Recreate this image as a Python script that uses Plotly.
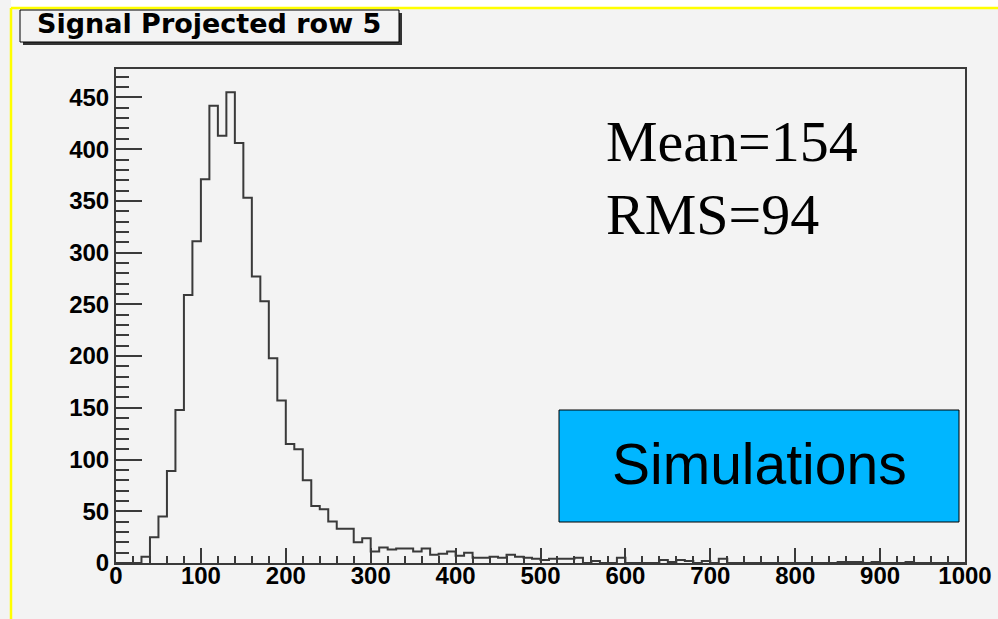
import plotly.graph_objects as go

# ---- data ----
bin_width = 10
bin_start = 0
counts = [0, 0, 0, 6, 25, 45, 89, 148, 259, 311,
          371, 442, 413, 455, 406, 353, 277, 253, 198, 157,
          115, 110, 80, 55, 52, 40, 33, 33, 20, 24,
          11, 15, 13, 14, 14, 11, 14, 8, 9, 11,
          7, 10, 5, 5, 6, 5, 8, 6, 5, 4,
          3, 4, 4, 4, 5, 0, 2, 0, 0, 5,
          0, 0, 0, 0, 3, 1, 3, 2, 0, 2,
          0, 4, 0, 0, 0, 0, 0, 0, 0, 0,
          0, 0, 0, 0, 0, 1, 1, 1, 0, 1,
          0, 0, 0, 1, 0, 0, 0, 0, 0, 0]
title_text = "Signal Projected row 5"
stats_lines = ["Mean=154", "RMS=94"]
label_text = "Simulations"
x_range = [0, 1000]
y_range = [0, 477.5]

edges = [bin_start + i * bin_width for i in range(len(counts) + 1)]
xs = edges
ys = counts + [counts[-1]]

W, H = 998, 619
L, R, T, B = 116, 965, 69, 563


def px(x):
    return (x - L) / (R - L)


def py(y):
    return (B - y) / (B - T)


BG = "#f3f3f3"
LC = "#3a3a3a"

fig = go.Figure()
fig.add_trace(go.Scatter(x=xs, y=ys, mode="lines", line_shape="hv",
                         line=dict(color=LC, width=2), hoverinfo="skip",
                         showlegend=False))

tickfont = dict(family="Liberation Sans", size=24, color="#000", weight="bold")

fig.update_layout(
    width=W, height=H,
    margin=dict(l=L, r=W - R, t=T, b=H - B, pad=0, autoexpand=False),
    paper_bgcolor=BG, plot_bgcolor=BG,
    showlegend=False,
    xaxis=dict(range=x_range, dtick=100, tick0=0, ticks="inside", ticklen=15,
               tickwidth=2, tickcolor=LC, showgrid=False, zeroline=False,
               showline=True, linecolor=LC, linewidth=2, mirror=True,
               tickfont=tickfont, automargin=False, ticklabelstandoff=-10,
               minor=dict(dtick=20, ticks="inside", ticklen=7, tickwidth=2,
                          tickcolor=LC, showgrid=False)),
    yaxis=dict(range=y_range, dtick=50, tick0=0, ticks="inside", ticklen=26,
               tickwidth=2, tickcolor=LC, showgrid=False, zeroline=False,
               showline=True, linecolor=LC, linewidth=2, mirror=True,
               tickfont=tickfont, automargin=False,
               minor=dict(dtick=10, ticks="inside", ticklen=13, tickwidth=2,
                          tickcolor=LC, showgrid=False)),
)

shapes = []
# white strip and yellow border
shapes.append(dict(type="rect", xref="paper", yref="paper", x0=px(11), x1=px(W),
                   y0=py(0), y1=py(7), fillcolor="white", line=dict(width=0),
                   layer="below"))
shapes.append(dict(type="line", xref="paper", yref="paper", x0=px(11), x1=px(W),
                   y0=py(8), y1=py(8), line=dict(color="#ffff00", width=2.5)))
shapes.append(dict(type="line", xref="paper", yref="paper", x0=px(11), x1=px(11),
                   y0=py(8), y1=py(H), line=dict(color="#ffff00", width=2.5)))
# title box with shadow
shapes.append(dict(type="rect", xref="paper", yref="paper", x0=px(23), x1=px(402),
                   y0=py(13), y1=py(45), fillcolor="#333", line=dict(width=0)))
shapes.append(dict(type="rect", xref="paper", yref="paper", x0=px(20), x1=px(399),
                   y0=py(10), y1=py(42), fillcolor=BG, line=dict(color="#000", width=1)))
# Simulations box
shapes.append(dict(type="rect", xref="paper", yref="paper", x0=px(559), x1=px(959),
                   y0=py(410), y1=py(522), fillcolor="#00b6ff",
                   line=dict(color="#000", width=1)))
fig.update_layout(shapes=shapes)

ann = []
ann.append(dict(xref="paper", yref="paper", x=px(209), y=py(24), text=title_text,
                showarrow=False, xanchor="center", yanchor="middle",
                font=dict(family="DejaVu Sans", size=27, color="#000", weight="bold")))
for i, s in enumerate(stats_lines):
    cy = 141.5 + i * 73
    ann.append(dict(xref="paper", yref="paper", x=px(604), y=py(cy), text=s,
                    showarrow=False, xanchor="left", yanchor="middle",
                    font=dict(family="Liberation Serif", size=58, color="#000")))
ann.append(dict(xref="paper", yref="paper", x=px(759), y=py(464), text=label_text,
                showarrow=False, xanchor="center", yanchor="middle",
                font=dict(family="Liberation Sans", size=57, color="#000")))
fig.update_layout(annotations=ann)

fig.write_html("out.html")
